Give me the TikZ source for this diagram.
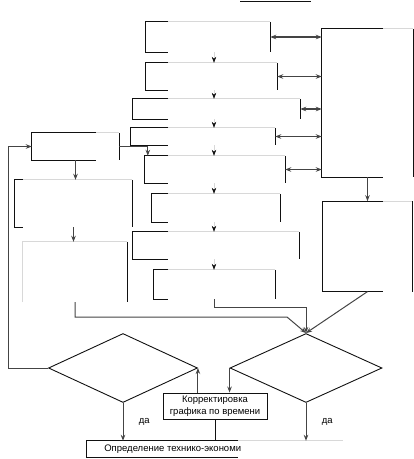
\documentclass[tikz,border=0pt]{standalone}
\usepackage{fontspec}
\setmainfont{Liberation Sans}
\usetikzlibrary{positioning,arrows.meta,calc,shapes.geometric}
\definecolor{ink}{HTML}{111111}
\definecolor{wire}{HTML}{444444}
\definecolor{ghost}{HTML}{D8D8D8}
\tikzset{
  frame/.style={draw=none, inner sep=0pt},
  edge/.style={draw=ink, line width=1pt},
  ghostline/.style={draw=ghost, line width=0.7pt},
  flow/.style={-{Stealth[length=6pt,width=4.5pt]}, draw=wire, line width=1pt},
  both/.style={{Stealth[length=6pt,width=4.5pt]}-{Stealth[length=6pt,width=4.5pt]}, draw=wire, line width=1.3pt},
  stub/.style={-{Stealth[length=6pt,width=4.5pt,color=ink]}, draw=ghost, line width=0.5pt},
  choice/.style={diamond, draw=ink, line width=0.9pt, inner sep=0pt, aspect=2.2},
  txt/.style={font=\fontsize{9.5}{12}\selectfont, align=center},
}
% box with only the left bracket (up to x of #2) and the right edge left
\newcommand{\cutbox}[2]{%
  \draw[ghostline] (#1.north west) -- (#1.north east);
  \draw[edge] (#1.north west -| #2) -- (#1.north west) -- (#1.south west) -- (#1.south west -| #2);
  \draw[edge] (#1.north east) -- (#1.south east);
}
\begin{document}
\begin{tikzpicture}[x=1pt, y=-1pt]
  \useasboundingbox (0,0) rectangle (414,459);
  \coordinate (cutM) at (168,0);
  \coordinate (cutL) at (96,0);
  \coordinate (cutS) at (23,0);
  \coordinate (cutR) at (383,0);
  \coordinate (cutO) at (238,0);
  \coordinate (col) at (214,0);
  \coordinate (loop) at (8,0);
  \coordinate (bend) at (287,317);

  % middle column
  \node[frame, minimum width=124pt, minimum height=30pt] (b1) at (208,37) {};
  \node[frame, minimum width=131pt, minimum height=27pt] (b2) at (211.5,76.5) {};
  \node[frame, minimum width=167pt, minimum height=20pt] (b3) at (216.5,109) {};
  \node[frame, minimum width=144pt, minimum height=17pt] (b4) at (203,136.5) {};
  \node[frame, minimum width=140pt, minimum height=27pt] (b5) at (215,169.5) {};
  \node[frame, minimum width=128pt, minimum height=28pt] (b6) at (216,208) {};
  \node[frame, minimum width=166pt, minimum height=27pt] (b7) at (216,245.5) {};
  \node[frame, minimum width=121pt, minimum height=29pt] (b8) at (214.5,284.5) {};
  % left column
  \node[frame, minimum width=87pt, minimum height=27pt] (L1) at (75.5,146.5) {};
  \node[frame, minimum width=117pt, minimum height=47pt] (L2) at (73.5,203.5) {};
  \node[frame, minimum width=104pt, minimum height=60pt] (L3) at (75,272) {};
  % right column
  \node[frame, minimum width=91pt, minimum height=148pt] (R1) at (367.5,103) {};
  \node[frame, minimum width=90pt, minimum height=90pt, below=24pt of R1] (R2) {};
  % bottom
  \node[choice, minimum width=149pt, minimum height=69pt] (dL) at (123,368) {};
  \node[choice, minimum width=152pt, minimum height=69pt] (dR) at (306,368) {};
  \node[draw=ink, line width=0.9pt, txt, inner sep=1pt, minimum width=104pt, minimum height=26pt] (corr) at (215,406) {Корректировка\\графика по времени};
  \node[frame, minimum width=256pt, minimum height=16pt] (opr) at (215,449) {};
  \node[txt, anchor=west] (oprt) at ([xshift=14pt]opr.west) {Определение технико-экономи};

  \foreach \b in {b1,b2,b3,b4,b5,b6,b7,b8} {\cutbox{\b}{cutM}}
  \cutbox{L1}{cutL}
  \cutbox{L2}{cutS}
  \cutbox{R1}{cutR}
  \cutbox{R2}{cutR}
  \draw[ghostline] (L3.south west) -- (L3.north west) -- (L3.north east);
  \draw[edge] (L3.north east) -- (L3.south east);
  \draw[ghostline] (opr.north west) -- (opr.north east);
  \draw[edge] (opr.north west -| cutO) -- (opr.north west) -- (opr.south west) -- (opr.south west -| cutO);
  \draw[edge] (240,1) -- (311,1);

  \foreach \a/\b in {b1/b2,b2/b3,b3/b4,b4/b5,b5/b6,b6/b7,b7/b8}
    \draw[stub] (\a.south -| col) -- (\b.north -| col);
  \foreach \a in {b1,b2,b3,b4,b5}
    \draw[both] (\a.east) -- (\a.east -| R1.west);
  \draw[flow] (R1.south) -- (R2.north);
  \draw[flow] (L1.south) -- (L1.south |- L2.north);
  \draw[flow] (L2.south) -- (L2.south |- L3.north);
  \draw[flow] (L1.east) -| ([xshift=3pt]b5.north west);
  \draw[flow] (L3.south) |- (bend) -- (dR.north);
  \draw[flow] (b8.south -| col) -- ++(0,8) -| (dR.north);
  \draw[flow] (R2.south) -- (dR.north);
  \draw[flow] (dL.west) -- (dL.west -| loop) |- (L1.west);
  \draw[flow] (dL.east |- corr.north) -- (dL.east);
  \draw[flow] (dR.west) -- (dR.west |- corr.north);
  \draw[edge] (corr.south) -- (corr.south |- opr.north);
  \draw[flow] (dL.south) -- node[txt, right=12pt]{да} (dL.south |- opr.north);
  \draw[flow] (dR.south) -- node[txt, right=12pt]{да} (dR.south |- opr.north);
\end{tikzpicture}
\end{document}
